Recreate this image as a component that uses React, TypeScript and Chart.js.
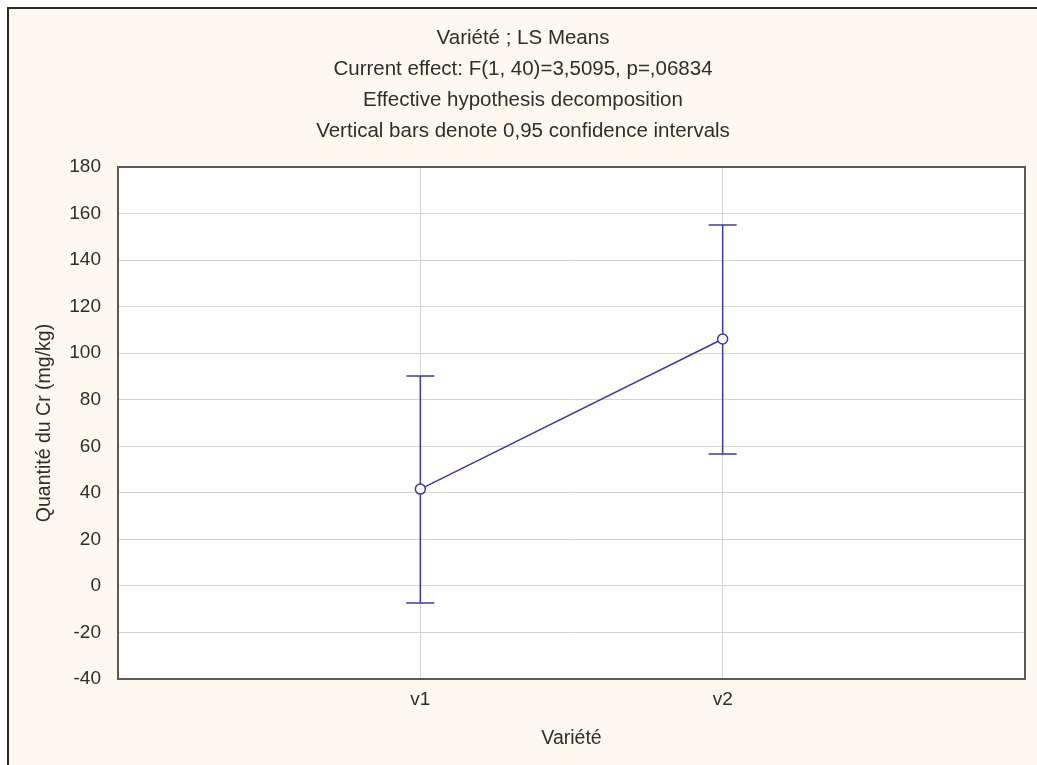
import React, { useEffect, useRef } from "react";
import { Chart, registerables } from "chart.js";

Chart.register(...registerables);

const categories = ["v1", "v2"];
const means = [41.6, 106.1];
const lowerCI = [-7.3, 56.7];
const upperCI = [90.2, 155.1];
const yTicksMin = -40;
const yTicksMax = 180;
const yStep = 20;
const titleLines = [
  "Variété ; LS Means",
  "Current effect: F(1, 40)=3,5095, p=,06834",
  "Effective hypothesis decomposition",
  "Vertical bars denote 0,95 confidence intervals",
];
const xTitle = "Variété";
const yTitle = "Quantité du Cr (mg/kg)";

const BLUE = "#3b3ba3";
const TEXT = "#2e2e2e";
const FONT = "'Liberation Sans', Arial, sans-serif";

const plotBg = {
  id: "plotBg",
  beforeDraw(chart: any) {
    const { ctx, chartArea: a } = chart;
    ctx.save();
    ctx.fillStyle = "#ffffff";
    ctx.fillRect(a.left, a.top, a.right - a.left, a.bottom - a.top);
    ctx.restore();
  },
  afterDraw(chart: any) {
    const { ctx, chartArea: a } = chart;
    ctx.save();
    ctx.strokeStyle = "#5a5a5a";
    ctx.lineWidth = 2;
    ctx.strokeRect(a.left, a.top, a.right - a.left, a.bottom - a.top);
    ctx.restore();
  },
};

const errorBars = {
  id: "errorBars",
  beforeDatasetsDraw(chart: any) {
    const { ctx, scales } = chart;
    const xs = scales.x;
    const ys = scales.y;
    ctx.save();
    ctx.strokeStyle = BLUE;
    ctx.lineWidth = 1.5;
    categories.forEach((_, i) => {
      const x = xs.getPixelForValue(i + 1);
      const yl = ys.getPixelForValue(lowerCI[i]);
      const yu = ys.getPixelForValue(upperCI[i]);
      const cap = 14;
      ctx.beginPath();
      ctx.moveTo(x, yl);
      ctx.lineTo(x, yu);
      ctx.moveTo(x - cap, yl);
      ctx.lineTo(x + cap, yl);
      ctx.moveTo(x - cap, yu);
      ctx.lineTo(x + cap, yu);
      ctx.stroke();
    });
    ctx.restore();
  },
};

export default function App() {
  const ref = useRef<HTMLCanvasElement | null>(null);

  useEffect(() => {
    document.body.style.margin = "0";
    document.body.style.overflow = "hidden";
    const canvas = ref.current;
    if (!canvas) return;
    const chart = new Chart(canvas, {
      type: "line",
      data: {
        datasets: [
          {
            data: means.map((m, i) => ({ x: i + 1, y: m })),
            borderColor: BLUE,
            borderWidth: 1.5,
            pointRadius: 5,
            pointBackgroundColor: "#ffffff",
            pointBorderColor: BLUE,
            pointBorderWidth: 1.5,
            fill: false,
            tension: 0,
          },
        ],
      },
      options: {
        animation: false,
        responsive: false,
        maintainAspectRatio: false,
        layout: { padding: { left: 0, right: 0, top: 0, bottom: 0 } },
        plugins: {
          legend: { display: false },
          tooltip: { enabled: false },
          title: {
            display: true,
            text: titleLines,
            color: TEXT,
            font: { family: FONT, size: 20.5, weight: "normal", lineHeight: 31 / 20.5 },
            padding: { top: 13.5, bottom: 20.5 },
          },
        },
        scales: {
          x: {
            type: "linear",
            min: 0,
            max: 3,
            afterBuildTicks: (s: any) => {
              s.ticks = categories.map((_, i) => ({ value: i + 1 }));
            },
            afterFit: (s: any) => {
              s.height = 86;
            },
            ticks: {
              callback: (v: any) => categories[Number(v) - 1] ?? "",
              color: TEXT,
              font: { family: FONT, size: 19 },
              padding: 9.6,
              maxRotation: 0,
            },
            grid: { color: "#d4d4d4", lineWidth: 1, drawTicks: false },
            border: { display: false },
            title: {
              display: true,
              text: xTitle,
              color: TEXT,
              font: { family: FONT, size: 19.5, lineHeight: 1.2 },
              padding: { top: 0, bottom: 14.3 },
            },
          },
          y: {
            type: "linear",
            min: yTicksMin,
            max: yTicksMax,
            afterFit: (s: any) => {
              s.width = 109;
            },
            ticks: {
              stepSize: yStep,
              color: TEXT,
              font: { family: FONT, size: 19 },
              padding: 17,
            },
            grid: { color: "#d4d4d4", lineWidth: 1, drawTicks: false },
            border: { display: false },
            title: {
              display: true,
              text: yTitle,
              color: TEXT,
              font: { family: FONT, size: 19.5, lineHeight: 1.2 },
              padding: { top: 24.3, bottom: 0 },
            },
          },
          yRight: {
            type: "linear",
            position: "right",
            min: yTicksMin,
            max: yTicksMax,
            afterFit: (s: any) => {
              s.width = 12;
            },
            ticks: { display: false },
            grid: { display: false, drawTicks: false },
            border: { display: false },
          },
        },
      },
      plugins: [plotBg, errorBars],
    });
    return () => chart.destroy();
  }, []);

  return (
    <div
      style={{
        position: "absolute",
        left: 7,
        top: 7,
        width: 1030,
        height: 758,
        background: "#fdf9ee",
        borderTop: "2px solid #2a2a2a",
        borderLeft: "2px solid #2a2a2a",
      }}
    >
      <canvas ref={ref} width={1028} height={756} style={{ display: "block" }} />
    </div>
  );
}
